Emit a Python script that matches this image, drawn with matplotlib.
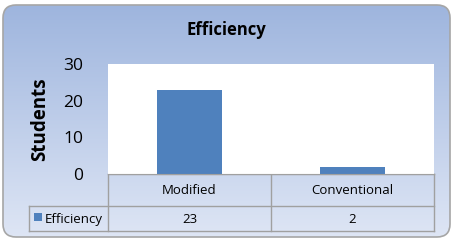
import numpy as np
import matplotlib
matplotlib.use("Agg")
import matplotlib.pyplot as plt
from matplotlib.patches import FancyBboxPatch, Rectangle
from matplotlib.lines import Line2D

categories = ["Modified", "Conventional"]
values = [23, 2]
series_name = "Efficiency"
title = "Efficiency"
ylabel = "Students"
yticks = [0, 10, 20, 30]

W, H = 453, 242
plt.rcParams['font.family'] = ['Open Sans', 'DejaVu Sans']
fig = plt.figure(figsize=(W / 100, H / 100), dpi=100)

def fx(px):
    return px / W

def fy(py):
    return 1 - py / H

# background with rounded frame and vertical gradient
bg = fig.add_axes([0, 0, 1, 1])
bg.set_xlim(0, W)
bg.set_ylim(H, 0)
bg.axis("off")
grad = np.linspace(0, 1, 256).reshape(-1, 1)
top = np.array([0.62, 0.71, 0.87])
bot = np.array([0.87, 0.90, 0.96])
img = top + grad[..., None] * (bot - top)
frame = FancyBboxPatch((3, 5), 447, 232, boxstyle="round,pad=0,rounding_size=13",
                       fc="none", ec="#a6a6a6", lw=1.2, zorder=3)
bg.add_patch(frame)
im = bg.imshow(img, extent=(3, 450, 237, 5), aspect="auto", zorder=1)
im.set_clip_path(frame)

# plot area
L, R, T, B = 108, 434, 64, 174
ax = fig.add_axes([fx(L), fy(B), fx(R - L), (B - T) / H])
ax.set_facecolor("white")
x = np.arange(len(categories))
ax.bar(x, values, width=0.4, color="#4f81bd", zorder=2)
ax.set_xlim(-0.5, len(categories) - 0.5)
ax.set_ylim(0, 30)
ax.set_yticks(yticks)
ax.set_yticklabels([str(t) for t in yticks], fontsize=12.5)
ax.tick_params(axis="y", length=0, pad=18)
ax.set_xticks([])
for s in ["top", "right", "left"]:
    ax.spines[s].set_visible(False)
ax.spines["bottom"].set_color("#a0a0a0")
ax.set_ylabel(ylabel, fontsize=13.5, fontweight="bold", labelpad=9)
fig.text(0.5, fy(30), title, ha="center", va="center", fontsize=12, fontweight="bold")

# data table below plot area
tl, tr = 29, 434
r0, r1, r2 = 174, 206, 231
col = "#a0a0a0"
bg.add_line(Line2D([L, tr], [r0, r0], color=col, lw=1, zorder=4))
bg.add_line(Line2D([tl, tr], [r1, r1], color=col, lw=1, zorder=4))
bg.add_line(Line2D([tl, tr], [r2, r2], color=col, lw=1, zorder=4))
bg.add_line(Line2D([tl, tl], [r1, r2], color=col, lw=1, zorder=4))
col_w = (R - L) / len(categories)
edges = [L + i * col_w for i in range(len(categories) + 1)]
for e in edges:
    bg.add_line(Line2D([e, e], [r0, r2], color=col, lw=1, zorder=4))
for i, (c, v) in enumerate(zip(categories, values)):
    cx = (edges[i] + edges[i + 1]) / 2
    bg.text(cx, (r0 + r1) / 2 + 1, c, ha="center", va="center", fontsize=9.5, zorder=5)
    bg.text(cx, (r1 + r2) / 2 + 1, str(v), ha="center", va="center", fontsize=9.5, zorder=5)
bg.add_patch(Rectangle((34, 213), 8, 8, fc="#4f81bd", ec="none", zorder=5))
bg.text(45, (r1 + r2) / 2 + 1, series_name, ha="left", va="center", fontsize=9.5, zorder=5)

fig.savefig("out.png", dpi=100)
